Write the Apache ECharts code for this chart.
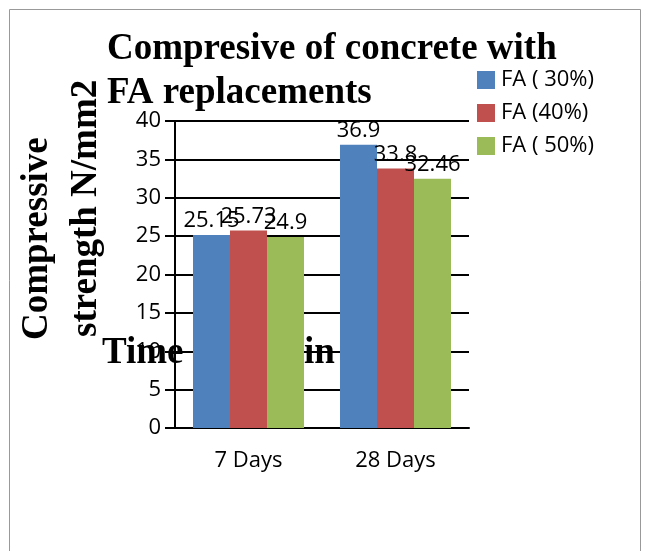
<!DOCTYPE html>
<html><head><meta charset="utf-8">
<script src="https://cdn.jsdelivr.net/npm/echarts@6/dist/echarts.min.js"></script>
<style>html,body{margin:0;padding:0;background:#fff}#c{width:649px;height:551px}</style>
</head><body><div id="c"></div>
<script>
const categories = ['7 Days', '28 Days'];
const seriesNames = ['FA ( 30%)', 'FA (40%)', 'FA ( 50%)'];
const fa30 = [25.15, 36.9];
const fa40 = [25.73, 33.8];
const fa50 = [24.9, 32.46];
const colors = ['#4F81BD', '#C0504D', '#9BBB59'];
const yTicks = {min: 0, max: 40, interval: 5};

const chart = echarts.init(document.getElementById('c'));
const labelFont = {fontFamily: 'Open Sans', fontSize: 22, color: '#000'};
const serifBold = {fontFamily: 'Liberation Serif', fontWeight: 'bold', fontSize: 37, fill: '#000'};
function mk(name, data, color) {
  return {
    name, type: 'bar', data, barWidth: 37, barGap: '0%', z: 2,
    itemStyle: {color},
    label: {show: true, position: 'top', distance: 3, ...labelFont}
  };
}
chart.setOption({
  animation: false,
  color: colors,
  grid: {left: 175, right: 180, top: 121, bottom: 123, containLabel: false},
  legend: {
    orient: 'vertical', left: 477, top: 69, padding: 0, icon: 'rect',
    itemWidth: 18, itemHeight: 18, itemGap: 11,
    textStyle: {fontFamily: 'Open Sans', fontSize: 22, color: '#000', padding: [0,0,0,1]},
    data: seriesNames
  },
  xAxis: {
    type: 'category', data: categories, z: 1,
    axisLine: {lineStyle: {color: '#000', width: 2}},
    axisTick: {show: false},
    axisLabel: {margin: 22, ...labelFont}
  },
  yAxis: {
    type: 'value', min: yTicks.min, max: yTicks.max, interval: yTicks.interval, z: 1,
    axisLine: {show: true, lineStyle: {color: '#000', width: 2}},
    axisTick: {show: true, length: 10, lineStyle: {color: '#000', width: 2}},
    splitLine: {lineStyle: {color: '#000', width: 2}},
    axisLabel: {margin: 14, ...labelFont}
  },
  series: [mk(seriesNames[0], fa30, colors[0]), mk(seriesNames[1], fa40, colors[1]), mk(seriesNames[2], fa50, colors[2])],
  graphic: [
    {type: 'rect', z: 0, shape: {x: 9.5, y: 9.5, width: 631, height: 600}, style: {fill: 'none', stroke: '#999', lineWidth: 1}},
    {type: 'text', z: 0, left: 107, top: 31, style: {text: 'Compresive of concrete with', ...serifBold}},
    {type: 'text', z: 0, left: 107, top: 75, style: {text: 'FA replacements', ...serifBold}},
    {type: 'text', z: 0, x: 37, y: 340, rotation: Math.PI / 2, style: {text: 'Compressive', ...serifBold, align: 'left', verticalAlign: 'middle'}},
    {type: 'text', z: 0, x: 86, y: 337, rotation: Math.PI / 2, style: {text: 'strength N/mm2', ...serifBold, align: 'left', verticalAlign: 'middle'}},
    {type: 'text', z: 0, x: 102, y: 353, style: {text: 'Time', ...serifBold, verticalAlign: 'middle'}},
    {type: 'text', z: 0, x: 304, y: 353, style: {text: 'in', ...serifBold, verticalAlign: 'middle'}}
  ]
});
</script></body></html>
